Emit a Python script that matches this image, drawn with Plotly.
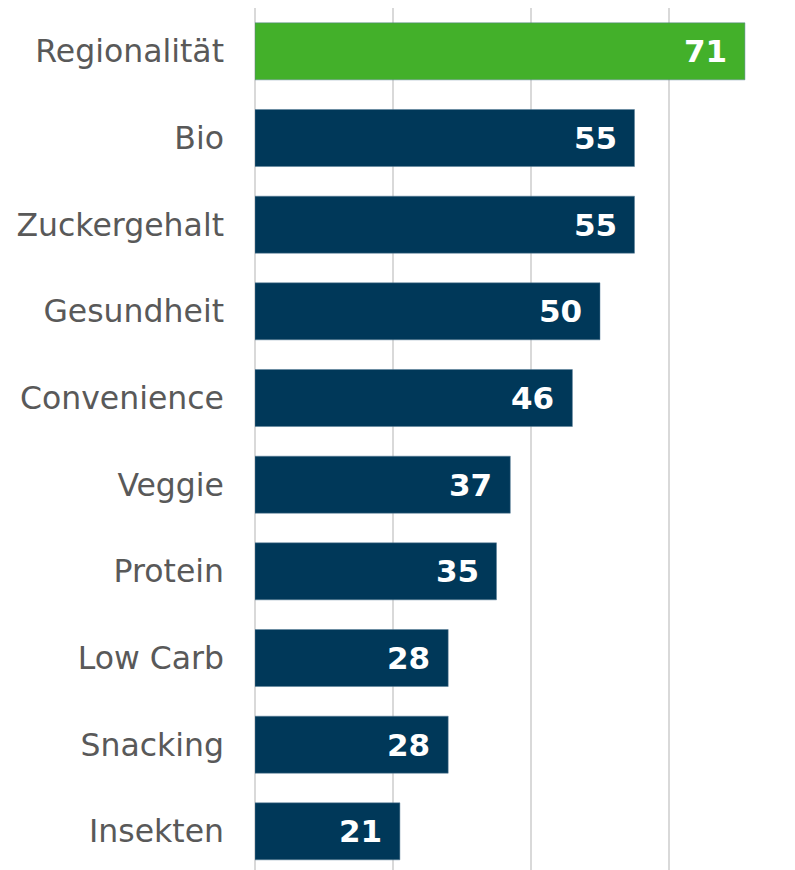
import plotly.graph_objects as go

categories = ["Regionalität", "Bio", "Zuckergehalt", "Gesundheit", "Convenience",
              "Veggie", "Protein", "Low Carb", "Snacking", "Insekten"]
values = [71, 55, 55, 50, 46, 37, 35, 28, 28, 21]
colors = ["#43B02A"] + ["#003859"] * 9

fig = go.Figure()
fig.add_trace(go.Bar(
    x=values, y=categories, orientation="h",
    marker=dict(color=colors, line=dict(color="#5a7f99", width=0.5)),
    hoverinfo="skip",
))
for v, c in zip(values, categories):
    fig.add_annotation(x=v, y=c, text=f"<b>{v}</b>", showarrow=False,
                       xanchor="right", xshift=-16, yshift=0,
                       font=dict(family="DejaVu Sans", size=31, color="white"))

fig.update_layout(
    width=795, height=870,
    margin=dict(l=255, r=0, t=8, b=0),
    paper_bgcolor="white", plot_bgcolor="white",
    bargap=0.342, showlegend=False,
    xaxis=dict(range=[0, 78.26], showticklabels=False, showgrid=True,
               gridcolor="#d9d9d9", gridwidth=1.5, dtick=20,
               zeroline=True, zerolinecolor="#d9d9d9", zerolinewidth=1.5,
               fixedrange=True),
    yaxis=dict(categoryorder="array", categoryarray=categories,
               range=[9.446, -0.5], showgrid=False, zeroline=False,
               ticks="", ticklabelstandoff=30,
               tickfont=dict(family="DejaVu Sans", size=31.5, color="#595959")),
)
fig.write_html("out.html")
